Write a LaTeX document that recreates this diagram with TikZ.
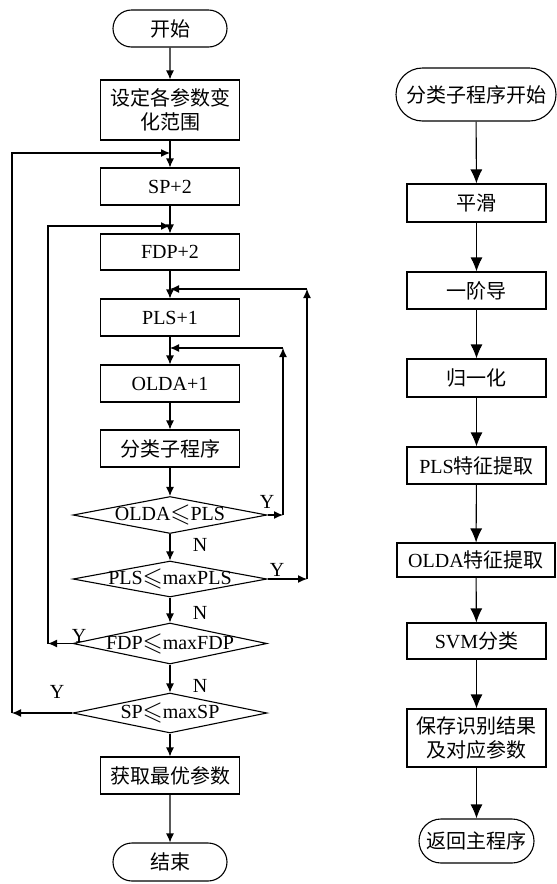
\documentclass[tikz,border=0pt]{standalone}
\usepackage{amssymb}
\usepackage{fontspec}
\setmainfont{Liberation Serif}
\newfontfamily\cjk{Noto Sans CJK SC}
\usetikzlibrary{shapes.misc,shapes.geometric,arrows.meta}
\newcommand{\myleq}{\makebox[1em]{\raisebox{-0.05em}{\scalebox{1.3}{$\leqslant$}}}}
\tikzset{
 base/.style={draw, line width=1.1pt, font=\fontsize{20}{24}\selectfont, inner sep=0pt, align=center},
 box/.style={base, rectangle, minimum width=139pt, minimum height=37pt},
 term/.style={base, rounded rectangle, minimum width=114pt, minimum height=37pt},
 dia/.style={draw, line width=1.1pt, diamond, inner sep=0pt, minimum width=194pt},
 lbl/.style={font=\fontsize{20}{24}\selectfont, inner sep=0pt},
 arr/.style={line width=1.1pt, -{Latex[length=9pt,width=8pt]}},
 rarr/.style={line width=1.1pt, -{Latex[length=14pt,width=12pt]}},
}
\begin{document}
\begin{tikzpicture}[x=1pt,y=-1pt]
\useasboundingbox[fill=white] (0,0) rectangle (557,884);
% left column
\node[term] (start) at (170,28.5) {\cjk 开始};
\node[box, minimum height=60pt] (set) at (170,110) {\cjk 设定各参数变\\\cjk 化范围};
\node[box] (sp) at (170,186.5) {SP+2};
\node[box, minimum height=36pt] (fdp) at (170,252) {FDP+2};
\node[box] (pls) at (170,317.5) {PLS+1};
\node[box] (olda) at (170,383.5) {OLDA+1};
\node[box] (cls) at (170,448.5) {\cjk 分类子程序};
\node[dia, minimum height=37pt] (d1) at (170,515) {};
\node[lbl] (d1t) at (d1.center) {OLDA\myleq PLS};
\node[dia, minimum height=36pt] (d2) at (170,579) {};
\node[lbl] (d2t) at (d2.center) {PLS\myleq maxPLS};
\node[dia, minimum height=41pt] (d3) at (170,643.5) {};
\node[lbl] (d3t) at (d3.center) {FDP\myleq maxFDP};
\node[dia, minimum height=40pt] (d4) at (170,713) {};
\node[lbl] (d4t) at (d4.center) {SP\myleq maxSP};
\node[box] (best) at (170,775.5) {\cjk 获取最优参数};
\node[term, minimum height=38pt] (end) at (170,862) {\cjk 结束};
% main chain
\draw[arr] (start) -- (set);
\draw[arr] (set) -- (sp);
\draw[arr] (sp) -- (fdp);
\draw[arr] (fdp) -- (pls);
\draw[arr] (pls) -- (olda);
\draw[arr] (olda) -- (cls);
\draw[arr] (cls) -- (d1);
\draw[arr] (d1) -- (d2);
\draw[arr] (d2) -- (d3);
\draw[arr] (d3) -- (d4);
\draw[arr] (d4) -- (best);
\draw[arr] (best) -- (end);
% loops
\coordinate (a1) at (283,515); \coordinate (b1) at (283,348); \coordinate (c1) at (170,348);
\draw[arr] (d1.east) -- (a1);
\draw[arr] (a1) -- (b1);
\draw[arr] (b1) -- (c1);
\coordinate (a2) at (307,579); \coordinate (b2) at (307,289); \coordinate (c2) at (170,289);
\draw[arr] (d2.east) -- (a2);
\draw[arr] (a2) -- (b2);
\draw[arr] (b2) -- (c2);
\coordinate (a3) at (48,643.5); \coordinate (b3) at (48,226); \coordinate (c3) at (170,226);
\draw[arr] (d3.west) -- (a3);
\draw[arr] (a3) -- (b3) -- (c3);
\coordinate (a4) at (12,713); \coordinate (b4) at (12,153); \coordinate (c4) at (170,153);
\draw[arr] (d4.west) -- (a4);
\draw[arr] (a4) -- (b4) -- (c4);
% labels
\node[lbl] (y1) at (267,502) {Y};
\node[lbl] (n1) at (200,545) {N};
\node[lbl] (y2) at (277,570) {Y};
\node[lbl] (n2) at (200,613) {N};
\node[lbl] (y3) at (79,636) {Y};
\node[lbl] (n3) at (200,686) {N};
\node[lbl] (y4) at (57,692) {Y};
% right column
\node[term, minimum width=160pt, minimum height=53pt] (rs) at (476,94.5) {\cjk 分类子程序开始};
\node[box, minimum height=38pt] (r1) at (476.5,203) {\cjk 平滑};
\node[box] (r2) at (476.5,290.5) {\cjk 一阶导};
\node[box, minimum height=38pt] (r3) at (476.5,378) {\cjk 归一化};
\node[box] (r4) at (476.5,465.5) {PLS{\cjk 特征提取}};
\node[box, minimum width=158pt, minimum height=34pt] (r5) at (476,560) {OLDA{\cjk 特征提取}};
\node[box, minimum height=36pt] (r6) at (476.5,641) {SVM{\cjk 分类}};
\node[box, minimum height=58pt] (r7) at (476.5,738) {\cjk 保存识别结果\\\cjk 及对应参数};
\node[term, minimum width=115pt, minimum height=44pt] (r8) at (476.5,841) {\cjk 返回主程序};
\draw[rarr] (rs) -- (r1);
\draw[rarr] (r1) -- (r2);
\draw[rarr] (r2) -- (r3);
\draw[rarr] (r3) -- (r4);
\draw[rarr] (r4) -- (r5);
\draw[rarr] (r5) -- (r6);
\draw[rarr] (r6) -- (r7);
\draw[rarr] (r7) -- (r8);
\end{tikzpicture}
\end{document}
